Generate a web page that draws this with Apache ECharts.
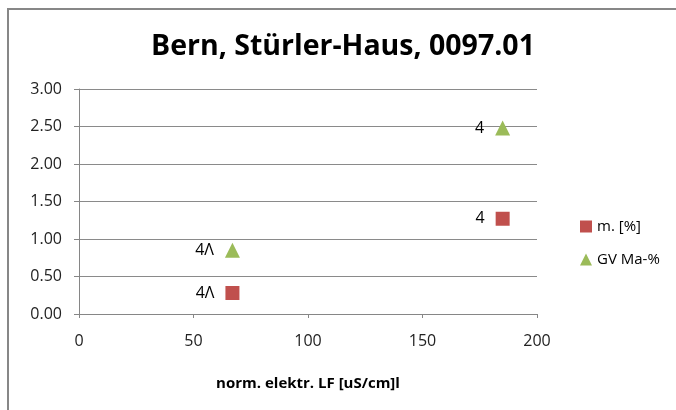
<!DOCTYPE html>
<html>
<head>
<meta charset="utf-8">
<script src="https://cdn.jsdelivr.net/npm/echarts@6/dist/echarts.min.js"></script>
<style>
  html, body { margin: 0; padding: 0; background: #fff; overflow: hidden; }
  #chart { position: absolute; left: 0; top: 0; width: 676px; height: 410px; }
</style>
</head>
<body>
<div id="chart"></div>
<script>
// Messwerte
var seriesNames = ['m. [%]', 'GV Ma-%'];
var lfValues = [67, 185];
var mValues = [0.28, 1.27];
var gvValues = [0.85, 2.48];
var pointLabels = ['4Λ', '4'];

var font = 'Open Sans';

function makePoints(ys) {
    return lfValues.map(function (x, i) {
        return { value: [x, ys[i]], label: { formatter: pointLabels[i] } };
    });
}

var mycharts = echarts.init(document.getElementById('chart'));
var optionObj = {
    backgroundColor: '#fff',
    animation: false,
    // Rahmen oben und links
    graphic: [
        { type: 'polyline', silent: true,
          shape: { points: [[8, 410], [8, 9], [676, 9]] },
          style: { stroke: '#878787', lineWidth: 2, fill: null } }
    ],
    title: {
        text: 'Bern, Stürler-Haus, 0097.01',
        left: 146,
        top: 27,
        textStyle: { fontFamily: font, fontSize: 28.5, fontWeight: 'bold', color: '#000' }
    },
    legend: {
        orient: 'vertical',
        left: 575,
        top: 214,
        itemGap: 18,
        itemWidth: 12,
        itemHeight: 12,
        textStyle: { fontFamily: font, fontSize: 15, color: '#000' },
        data: [
            { name: seriesNames[0], icon: 'rect' },
            { name: seriesNames[1], icon: 'triangle' }
        ]
    },
    grid: { left: 79, right: 139, top: 89, bottom: 96 },
    xAxis: {
        type: 'value',
        min: 0, max: 200, interval: 50,
        name: 'norm. elektr. LF [uS/cm]l',
        nameLocation: 'middle',
        nameGap: 62,
        nameTextStyle: { fontFamily: font, fontSize: 15, fontWeight: 'bold', color: '#000' },
        axisLine: { show: true, lineStyle: { color: '#868686' } },
        axisTick: { show: true, length: 4, inside: false, lineStyle: { color: '#868686' } },
        axisLabel: { fontFamily: font, fontSize: 16, color: '#222', margin: 19 },
        splitLine: { show: false }
    },
    yAxis: {
        type: 'value',
        min: 0, max: 3, interval: 0.5,
        axisLine: { show: true, lineStyle: { color: '#868686' } },
        axisTick: { show: true, length: 5, lineStyle: { color: '#868686' } },
        axisLabel: {
            fontFamily: font, fontSize: 16, color: '#222', margin: 17,
            formatter: function (v) { return v.toFixed(2); }
        },
        splitLine: { show: true, lineStyle: { color: '#8a8a8a', width: 1 } }
    },
    series: [
        {
            name: seriesNames[0],
            type: 'scatter',
            symbol: 'rect',
            symbolSize: 14,
            itemStyle: { color: '#C0504D', opacity: 1 },
            label: { show: true, position: 'left', distance: 11,
                     fontFamily: font, fontSize: 16, color: '#000' },
            data: makePoints(mValues)
        },
        {
            name: seriesNames[1],
            type: 'scatter',
            symbol: 'triangle',
            symbolSize: 15,
            itemStyle: { color: '#9BBB59', opacity: 1 },
            label: { show: true, position: 'left', distance: 11,
                     fontFamily: font, fontSize: 16, color: '#000' },
            data: makePoints(gvValues)
        }
    ]
};
mycharts.setOption(optionObj);
</script>
</body>
</html>
